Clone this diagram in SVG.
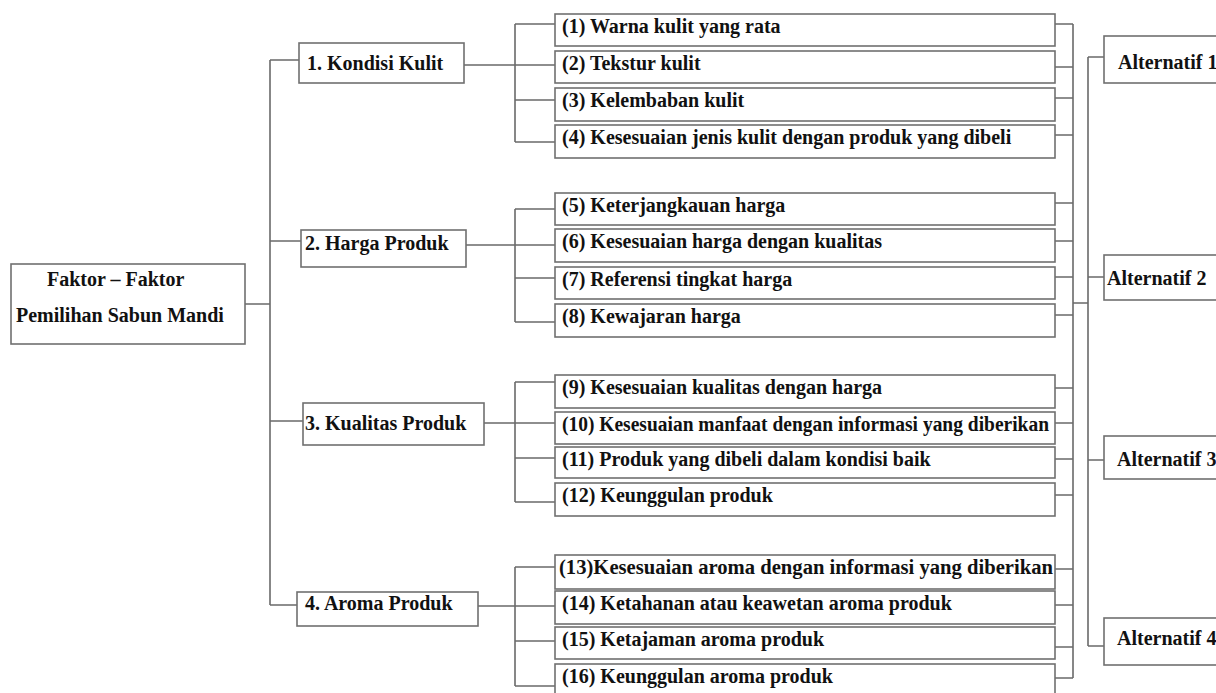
<svg xmlns="http://www.w3.org/2000/svg" width="1216" height="693" viewBox="0 0 1216 693">
<style>
.b{fill:#fff;stroke:#707070;stroke-width:1.6}
.t{font-family:"Liberation Serif","Times New Roman",serif;font-weight:bold;font-size:20px;fill:#111}
.c{fill:none;stroke:#6a6a6a;stroke-width:1.6}
</style>
<rect width="1216" height="693" fill="#fff"/>
<g id="connectors">
<path class="c" d="M245,304H270M270,60V605M270,60H299M270,241H301M270,421H303M270,605H297"/>
<path class="c" d="M464,65H515M515,24V142M515,24H555M515,65H555M515,100H555M515,142H555"/>
<path class="c" d="M466,245H515M515,209V322M515,209H555M515,245H555M515,278H555M515,322H555"/>
<path class="c" d="M484,423H515M515,382V502M515,382H555M515,423H555M515,458H555M515,502H555"/>
<path class="c" d="M478,606H515M515,567V686M515,567H555M515,606H555M515,641H555M515,686H555"/>
<path class="c" d="M1055,24H1073M1055,67H1073M1055,98H1073M1055,135H1073M1055,203H1073M1055,241H1073M1055,277H1073M1055,315H1073M1055,388H1073M1055,423H1073M1055,459H1073M1055,495H1073M1055,569H1073M1055,605H1073M1055,647H1073M1055,678H1073M1073,24V678"/>
<path class="c" d="M1073,303H1088M1088,57V646M1088,57H1104M1088,277H1104M1088,460H1104M1088,646H1104"/>
</g>
<g id="root"><rect class="b" x="11" y="264" width="234" height="80"/>
<text class="t" x="47" y="286">Faktor – Faktor</text>
<text class="t" x="16" y="322">Pemilihan Sabun Mandi</text></g>
<g id="f1"><rect class="b" x="299" y="43" width="165" height="40"/><text class="t" x="307" y="70">1. Kondisi Kulit</text></g>
<g id="f2"><rect class="b" x="301" y="230" width="165" height="37"/><text class="t" x="305" y="250">2. Harga Produk</text></g>
<g id="f3"><rect class="b" x="303" y="403" width="181" height="42"/><text class="t" x="305" y="430">3. Kualitas Produk</text></g>
<g id="f4"><rect class="b" x="297" y="592" width="181" height="34"/><text class="t" x="305" y="610">4. Aroma Produk</text></g>
<g id="s1"><rect class="b" x="555" y="14" width="500" height="32"/><text class="t" x="562" y="33">(1) Warna kulit yang rata</text></g>
<g id="s2"><rect class="b" x="555" y="51" width="500" height="32"/><text class="t" x="562" y="70">(2) Tekstur kulit</text></g>
<g id="s3"><rect class="b" x="555" y="88" width="500" height="33"/><text class="t" x="562" y="107">(3) Kelembaban kulit</text></g>
<g id="s4"><rect class="b" x="555" y="125" width="500" height="33"/><text class="t" x="562" y="144">(4) Kesesuaian jenis kulit dengan produk yang dibeli</text></g>
<g id="s5"><rect class="b" x="555" y="193" width="500" height="32"/><text class="t" x="562" y="212">(5) Keterjangkauan harga</text></g>
<g id="s6"><rect class="b" x="555" y="229" width="500" height="33"/><text class="t" x="562" y="248">(6) Kesesuaian harga dengan kualitas</text></g>
<g id="s7"><rect class="b" x="555" y="267" width="500" height="32"/><text class="t" x="562" y="286">(7) Referensi tingkat harga</text></g>
<g id="s8"><rect class="b" x="555" y="304" width="500" height="33"/><text class="t" x="562" y="323">(8) Kewajaran harga</text></g>
<g id="s9"><rect class="b" x="555" y="375" width="500" height="33"/><text class="t" x="562" y="394">(9) Kesesuaian kualitas dengan harga</text></g>
<g id="s10"><rect class="b" x="555" y="412" width="500" height="32"/><text class="t" x="562" y="431" textLength="487" lengthAdjust="spacingAndGlyphs">(10) Kesesuaian manfaat dengan informasi yang diberikan</text></g>
<g id="s11"><rect class="b" x="555" y="447" width="500" height="31"/><text class="t" x="562" y="466">(11) Produk yang dibeli dalam kondisi baik</text></g>
<g id="s12"><rect class="b" x="555" y="483" width="500" height="33"/><text class="t" x="562" y="502">(12) Keunggulan produk</text></g>
<g id="s13"><rect class="b" x="555" y="555" width="500" height="34"/><text class="t" x="559" y="574" textLength="494" lengthAdjust="spacingAndGlyphs">(13)Kesesuaian aroma dengan informasi yang diberikan</text></g>
<g id="s14"><rect class="b" x="555" y="591" width="500" height="33"/><text class="t" x="562" y="610">(14) Ketahanan atau keawetan aroma produk</text></g>
<g id="s15"><rect class="b" x="555" y="627" width="500" height="32"/><text class="t" x="562" y="646">(15) Ketajaman aroma produk</text></g>
<g id="s16"><rect class="b" x="555" y="664" width="500" height="40"/><text class="t" x="562" y="683">(16) Keunggulan aroma produk</text></g>
<g id="a1"><rect class="b" x="1104" y="36" width="140" height="47"/><text class="t" x="1118" y="69">Alternatif 1</text></g>
<g id="a2"><rect class="b" x="1104" y="255" width="140" height="45"/><text class="t" x="1107" y="285">Alternatif 2</text></g>
<g id="a3"><rect class="b" x="1104" y="436" width="140" height="43"/><text class="t" x="1117" y="466">Alternatif 3</text></g>
<g id="a4"><rect class="b" x="1104" y="618" width="140" height="47"/><text class="t" x="1117" y="645">Alternatif 4</text></g>
</svg>
